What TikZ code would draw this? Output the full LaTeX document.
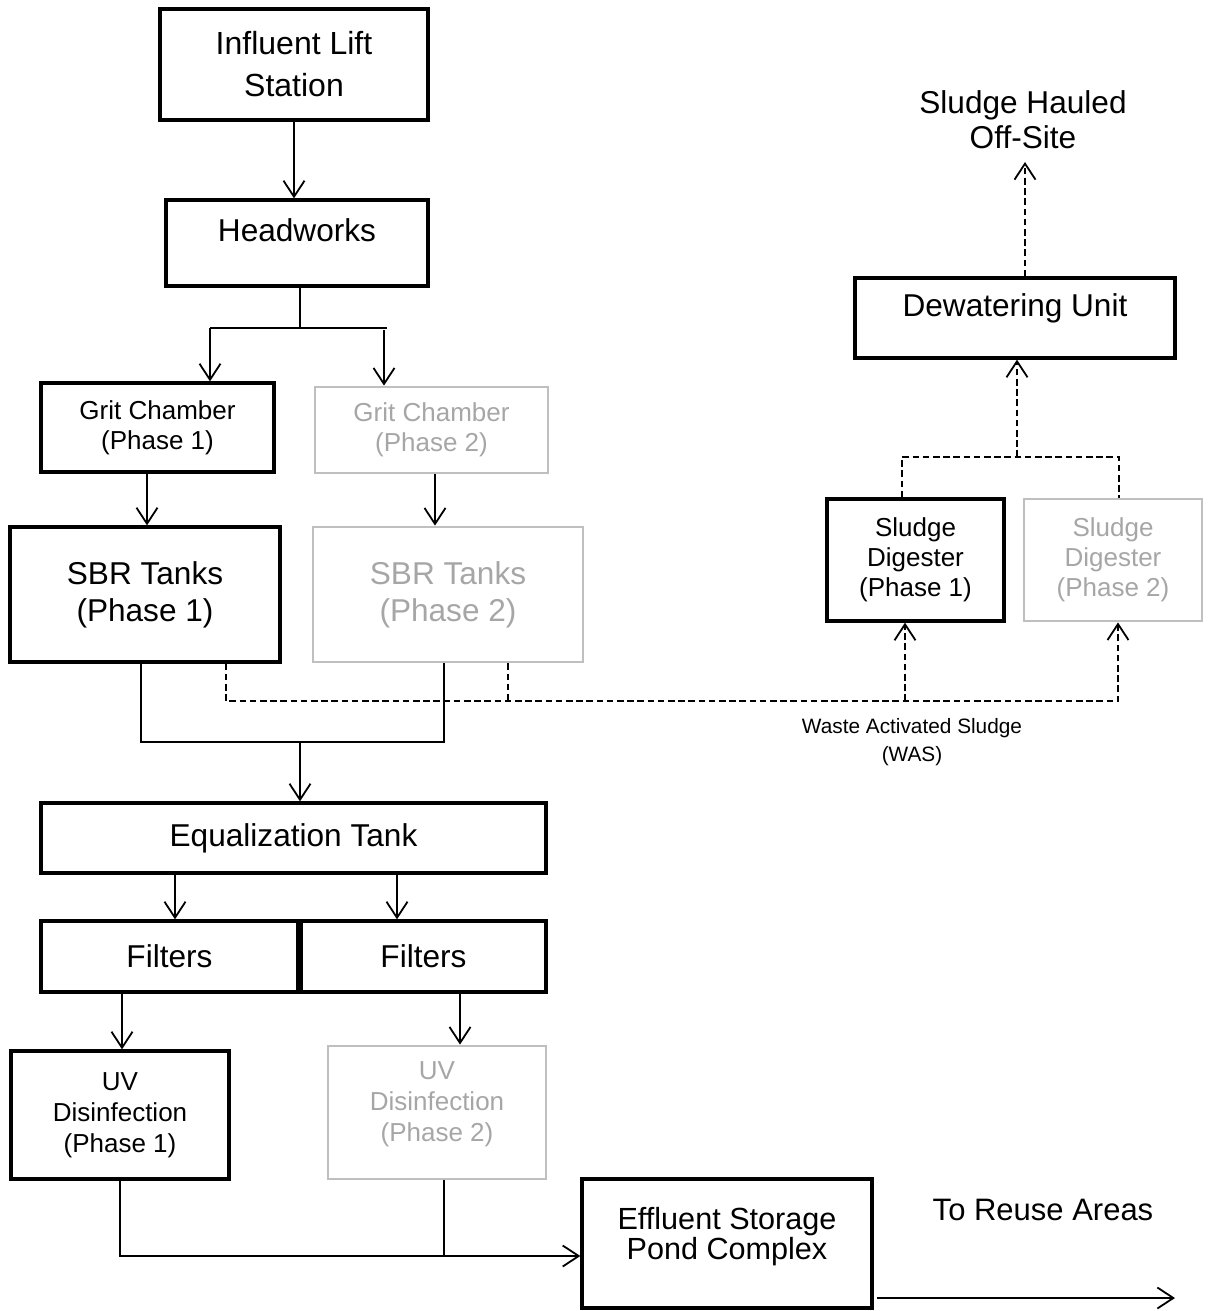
\documentclass[tikz,border=0pt]{standalone}
\usepackage{fontspec}
\setmainfont{Liberation Sans}
\usetikzlibrary{arrows.meta}
\definecolor{gb}{HTML}{BFBFBF}
\definecolor{gt}{HTML}{A6A6A6}
\begin{document}
\begin{tikzpicture}[x=0.5pt,y=-0.5pt,
  box/.style={draw, line width=1.65pt, inner sep=0pt, align=center},
  ph2/.style={draw=gb, text=gt, line width=1.4pt},
  ln/.style={line width=0.9pt},
  arr/.style={ln, -{Straight Barb[length=8pt,width=10.5pt]}},
  dsh/.style={ln, dash pattern=on 3.3pt off 1.8pt},
  fbig/.style={font=\fontsize{15.8}{18.5}\selectfont},
  fmid/.style={font=\fontsize{13}{15}\selectfont},
  txt/.style={inner sep=0pt, align=center},
]
\useasboundingbox (0,0) rectangle (1212,1311);

% boxes
\node[box, minimum width=134pt, minimum height=55.5pt, font=\fontsize{16}{21}\selectfont] (infl) at (294,64.5) {Influent Lift\\Station};
\node[box, minimum width=131pt, minimum height=43pt] (hw) at (297,243) {};
\node[txt, fbig] (hwt) at (297,230) {Headworks};
\node[box, fmid, minimum width=116.5pt, minimum height=44.5pt] (grit1) at (157.5,427.5) {Grit Chamber\\(Phase 1)};
\node[box, ph2, fmid, minimum width=116.5pt, minimum height=43pt] (grit2) at (431.5,430) {Grit Chamber\\(Phase 2)};
\node[box, fbig, minimum width=135pt, minimum height=67.5pt] (sbr1) at (145,594.5) {SBR Tanks\\(Phase 1)};
\node[box, ph2, fbig, minimum width=135pt, minimum height=67.5pt] (sbr2) at (448,594.5) {SBR Tanks\\(Phase 2)};
\node[box, fbig, minimum width=252.5pt, minimum height=35pt] (eq) at (293.5,838) {Equalization Tank};
\node[box, fbig, minimum width=128.5pt, minimum height=35.5pt] (fil1) at (169.5,956.5) {Filters};
\node[box, fbig, minimum width=122.5pt, minimum height=35.5pt] (fil2) at (423.5,956.5) {Filters};
\node[box, minimum width=109pt, minimum height=64pt, font=\fontsize{13}{15.5}\selectfont] (uv1) at (120,1115) {UV\\Disinfection\\(Phase 1)};
\node[box, ph2, minimum width=109pt, minimum height=66.5pt] (uv2) at (437,1112.5) {};
\node[txt, text=gt, font=\fontsize{13}{15.5}\selectfont] (uv2t) at (437,1104) {UV\\Disinfection\\(Phase 2)};
\node[box, minimum width=160pt, minimum height=40pt] (dew) at (1015,318) {};
\node[txt, fbig] (dewt) at (1015,308) {Dewatering Unit};
\node[box, fmid, minimum width=88.5pt, minimum height=61pt] (dig1) at (915.5,560) {Sludge\\Digester\\(Phase 1)};
\node[box, ph2, fmid, minimum width=89pt, minimum height=61pt] (dig2) at (1113,560) {Sludge\\Digester\\(Phase 2)};
\node[box, minimum width=145pt, minimum height=64.5pt] (eff) at (727,1243.5) {};
\node[txt, font=\fontsize{15.3}{15}\selectfont] (efft) at (727,1237) {Effluent Storage\\Pond Complex};

% free texts
\node[txt, font=\fontsize{15.8}{17.5}\selectfont] (haul) at (1023,120) {Sludge Hauled\\Off-Site};
\node[txt, font=\fontsize{10.4}{14}\selectfont] (was) at (912,742) {Waste Activated Sludge\\(WAS)};
\node[txt, font=\fontsize{15.5}{18}\selectfont] (reuse) at (1043,1210) {To Reuse Areas};

% coordinates
\coordinate (sp) at (300,328);
\coordinate (hl) at (210,328);
\coordinate (hr) at (387,328);
\coordinate (hr2) at (384,330);
\coordinate (c1) at (147,0);
\coordinate (c2) at (435,0);
\coordinate (mjl) at (141,742);
\coordinate (mjr) at (444,742);
\coordinate (mj) at (300,742);
\coordinate (wl) at (226,701);
\coordinate (wb) at (508,701);
\coordinate (wm) at (905,701);
\coordinate (wr) at (1118,701);
\coordinate (dl) at (902,457);
\coordinate (dr) at (1119,457);
\coordinate (dm) at (1017,457);
\coordinate (hx) at (1025,162);
\coordinate (fa) at (175,0);
\coordinate (fb) at (397,0);
\coordinate (ua) at (122,0);
\coordinate (ubx) at (460,0);
\coordinate (ej) at (120,1256);
\coordinate (ub) at (444,1256);
\coordinate (rs) at (877,1298);
\coordinate (rr) at (1175,1298);

% connectors
\draw[arr] (infl.south) -- (infl.south |- hw.north);
\draw[ln] (sp |- hw.south) -- (sp);
\draw[ln] (hl) -- (hr);
\draw[arr] (hl) -- (hl |- grit1.north);
\draw[arr] (hr2) -- (hr2 |- grit2.north);
\draw[arr] (c1 |- grit1.south) -- (c1 |- sbr1.north);
\draw[arr] (c2 |- grit2.south) -- (c2 |- sbr2.north);
\draw[ln] (mjl |- sbr1.south) -- (mjl) -- (mjr) -- (mjr |- sbr2.south);
\draw[arr] (mj) -- (mj |- eq.north);
\draw[arr] (fa |- eq.south) -- (fa |- fil1.north);
\draw[arr] (fb |- eq.south) -- (fb |- fil2.north);
\draw[arr] (ua |- fil1.south) -- (ua |- uv1.north);
\draw[arr] (ubx |- fil2.south) -- (ubx |- uv2.north);
\draw[arr] (uv1.south) -- (ej) -- (ej -| eff.west);
\draw[ln] (ub |- uv2.south) -- (ub);
\draw[arr] (rs) -- (rr);

% sludge (dashed)
\draw[dsh, -{Straight Barb[length=8pt,width=10.5pt]}] (wl |- sbr1.south) -- (wl) -- (wr) -- (wr |- dig2.south);
\draw[dsh] (wb |- sbr2.south) -- (wb);
\draw[dsh, -{Straight Barb[length=8pt,width=10.5pt]}] (wm) -- (wm |- dig1.south);
\draw[dsh] (dl |- dig1.north) -- (dl) -- (dr) -- (dr |- dig2.north);
\draw[dsh, -{Straight Barb[length=8pt,width=10.5pt]}] (dm) -- (dm |- dew.south);
\draw[dsh, -{Straight Barb[length=8pt,width=10.5pt]}] (hx |- dew.north) -- (hx);
\end{tikzpicture}
\end{document}
